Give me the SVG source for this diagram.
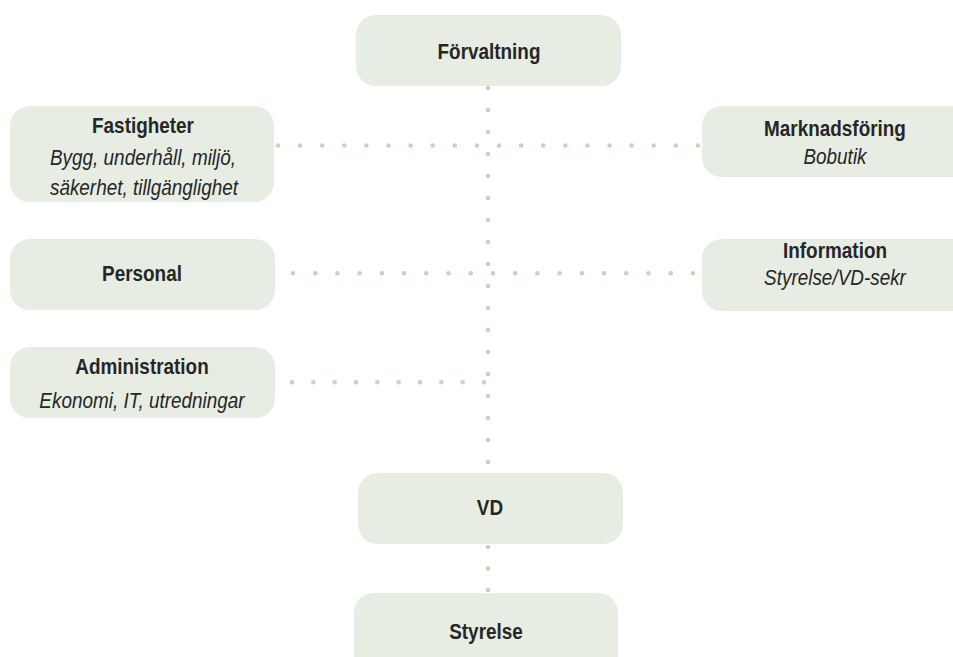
<svg xmlns="http://www.w3.org/2000/svg" width="953" height="657" viewBox="0 0 953 657">
<style>
.box{fill:#e7ede3;}
.t{font-family:"Liberation Sans",Arial,sans-serif;font-size:22px;font-weight:bold;fill:#262626;text-anchor:middle;}
.s{font-family:"Liberation Sans",Arial,sans-serif;font-size:22px;font-style:italic;fill:#262626;text-anchor:middle;}
.dot{fill:none;stroke:#c3d5bc;stroke-width:4.6;stroke-linecap:round;}
</style>
<rect width="953" height="657" fill="#ffffff"/>
<g id="connectors">
<line class="dot" x1="488" y1="88" x2="488" y2="462.5" style="stroke-dasharray:0 22"/>
<line class="dot" x1="488" y1="547" x2="488" y2="590.5" style="stroke-dasharray:0 21.5"/>
<line class="dot" x1="278" y1="145.5" x2="698.5" y2="145.5" style="stroke-dasharray:0 22.1"/>
<line class="dot" x1="293" y1="273.3" x2="693.5" y2="273.3" style="stroke-dasharray:0 22.22"/>
<line class="dot" x1="292" y1="382.3" x2="484.5" y2="382.3" style="stroke-dasharray:0 21.33"/>
</g>
<g id="forvaltning">
<rect class="box" x="356" y="15" width="265" height="71" rx="20"/>
<text class="t" transform="translate(489,59) scale(0.86,1)">Förvaltning</text>
</g>
<g id="fastigheter">
<rect class="box" x="10" y="106" width="264" height="96" rx="20"/>
<text class="t" transform="translate(143,133) scale(0.86,1)">Fastigheter</text>
<text class="s" transform="translate(143,165) scale(0.86,1)">Bygg, underhåll, miljö,</text>
<text class="s" transform="translate(144,195) scale(0.86,1)">säkerhet, tillgänglighet</text>
</g>
<g id="marknadsforing">
<rect class="box" x="702" y="106" width="280" height="71" rx="20"/>
<text class="t" transform="translate(835,136) scale(0.86,1)">Marknadsföring</text>
<text class="s" transform="translate(835,164) scale(0.86,1)">Bobutik</text>
</g>
<g id="personal">
<rect class="box" x="10" y="239" width="265" height="71" rx="20"/>
<text class="t" transform="translate(142,281) scale(0.86,1)">Personal</text>
</g>
<g id="information">
<rect class="box" x="702" y="239" width="280" height="72" rx="20"/>
<text class="t" transform="translate(835,258) scale(0.86,1)">Information</text>
<text class="s" transform="translate(835,285) scale(0.86,1)">Styrelse/VD-sekr</text>
</g>
<g id="administration">
<rect class="box" x="10" y="347" width="265" height="71" rx="20"/>
<text class="t" transform="translate(142,374) scale(0.86,1)">Administration</text>
<text class="s" transform="translate(142,408) scale(0.86,1)">Ekonomi, IT, utredningar</text>
</g>
<g id="vd">
<rect class="box" x="358" y="473" width="265" height="71" rx="20"/>
<text class="t" transform="translate(490,515) scale(0.86,1)">VD</text>
</g>
<g id="styrelse">
<rect class="box" x="354" y="593" width="264" height="90" rx="20"/>
<text class="t" transform="translate(486,639) scale(0.86,1)">Styrelse</text>
</g>
</svg>
